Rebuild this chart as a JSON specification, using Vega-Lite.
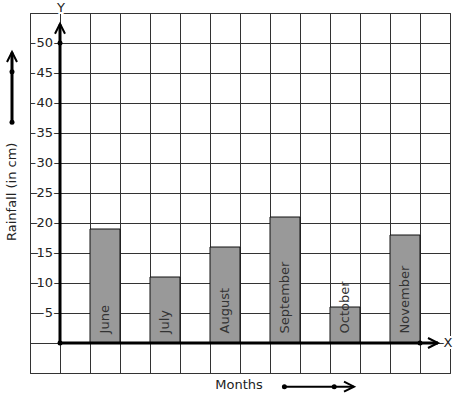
{
  "$schema": "https://vega.github.io/schema/vega-lite/v6.json",
  "width": 420,
  "height": 360,
  "autosize": {"type": "none"},
  "padding": {"left": 30, "top": 13, "right": 7, "bottom": 26},
  "background": "white",
  "config": {
    "view": {"stroke": "#333", "strokeWidth": 1},
    "font": "DejaVu Sans",
    "text": {"font": "DejaVu Sans", "fontSize": 13},
    "scale": {"continuousPadding": 0}
  },
  "datasets": {
    "rain": [
      {"month": "June", "pos": 1.5, "rainfall": 19},
      {"month": "July", "pos": 3.5, "rainfall": 11},
      {"month": "August", "pos": 5.5, "rainfall": 16},
      {"month": "September", "pos": 7.5, "rainfall": 21},
      {"month": "October", "pos": 9.5, "rainfall": 6},
      {"month": "November", "pos": 11.5, "rainfall": 18}
    ],
    "tickvals": [
      {"value": 5}, {"value": 10}, {"value": 15}, {"value": 20}, {"value": 25},
      {"value": 30}, {"value": 35}, {"value": 40}, {"value": 45}, {"value": 50}
    ],
    "one": [{}]
  },
  "layer": [
    {
      "data": {"name": "rain"},
      "mark": {"type": "bar", "width": 30, "fill": "#999999", "stroke": "#111111", "strokeWidth": 1, "clip": false},
      "encoding": {
        "x": {
          "field": "pos", "type": "quantitative",
          "scale": {"domain": [-1, 13], "nice": false, "zero": false, "padding": 0},
          "axis": {"values": [-1, 0, 1, 2, 3, 4, 5, 6, 7, 8, 9, 10, 11, 12, 13], "tickCount": 30, "labelOverlap": false, "labelFlush": false, "grid": true, "gridColor": "#333", "gridOpacity": 1, "gridWidth": 1, "labels": false, "ticks": false, "domain": false, "title": null}
        },
        "y": {
          "field": "rainfall", "type": "quantitative",
          "scale": {"domain": [-5, 55], "nice": false, "zero": false, "padding": 0},
          "axis": {"values": [-5, 0, 5, 10, 15, 20, 25, 30, 35, 40, 45, 50, 55], "tickCount": 30, "labelOverlap": false, "labelFlush": false, "grid": true, "gridColor": "#333", "gridOpacity": 1, "gridWidth": 1, "labels": false, "ticks": false, "domain": false, "title": null}
        },
        "y2": {"datum": 0}
      }
    },
    {
      "data": {"name": "rain"},
      "mark": {"type": "text", "angle": 270, "align": "left", "baseline": "middle", "fontSize": 13, "fill": "#333"},
      "encoding": {
        "x": {"field": "pos", "type": "quantitative"},
        "y": {"datum": 1.6},
        "text": {"field": "month"}
      }
    },
    {
      "data": {"name": "tickvals"},
      "mark": {"type": "text", "align": "right", "baseline": "middle", "fontSize": 13, "fill": "white", "stroke": "white", "strokeWidth": 4},
      "encoding": {
        "x": {"datum": -0.233},
        "y": {"field": "value", "type": "quantitative"},
        "text": {"field": "value"}
      }
    },
    {
      "data": {"name": "tickvals"},
      "mark": {"type": "text", "align": "right", "baseline": "middle", "fontSize": 13, "fill": "#222"},
      "encoding": {
        "x": {"datum": -0.233},
        "y": {"field": "value", "type": "quantitative"},
        "text": {"field": "value"}
      }
    },
    {
      "data": {"name": "one"},
      "mark": {"type": "rule", "strokeWidth": 3, "color": "black"},
      "encoding": {"x": {"datum": 0}, "y": {"datum": 0}, "y2": {"datum": 53.1}}
    },
    {
      "data": {"name": "one"},
      "mark": {"type": "rule", "strokeWidth": 3, "color": "black"},
      "encoding": {"x": {"datum": 0}, "x2": {"datum": 12.6}, "y": {"datum": 0}}
    },
    {
      "data": {"name": "one"},
      "mark": {"type": "rule", "strokeWidth": 3, "color": "black", "clip": false},
      "encoding": {"x": {"datum": -1.6}, "y": {"datum": 36.8}, "y2": {"datum": 48.4}}
    },
    {
      "data": {"name": "one"},
      "mark": {"type": "rule", "strokeWidth": 2, "color": "black", "clip": false},
      "encoding": {"x": {"datum": 7.48}, "x2": {"datum": 9.8}, "y": {"datum": -7.28}}
    },
    {
      "data": {"name": "one"},
      "mark": {"type": "point", "shape": "M-1,2L0,0L1,2", "size": 100, "filled": false, "stroke": "black", "strokeWidth": 2, "opacity": 1},
      "encoding": {"x": {"datum": 0}, "y": {"datum": 53.2}}
    },
    {
      "data": {"name": "one"},
      "mark": {"type": "point", "shape": "M-1,2L0,0L1,2", "size": 100, "filled": false, "stroke": "black", "strokeWidth": 2, "opacity": 1},
      "encoding": {"x": {"datum": -1.6}, "y": {"datum": 48.5}}
    },
    {
      "data": {"name": "one"},
      "mark": {"type": "point", "shape": "M-2,-1L0,0L-2,1", "size": 100, "filled": false, "stroke": "black", "strokeWidth": 2, "opacity": 1},
      "encoding": {"x": {"datum": 12.6}, "y": {"datum": 0}}
    },
    {
      "data": {"name": "one"},
      "mark": {"type": "point", "shape": "M-2,-1L0,0L-2,1", "size": 100, "filled": false, "stroke": "black", "strokeWidth": 2, "opacity": 1},
      "encoding": {"x": {"datum": 9.8}, "y": {"datum": -7.28}}
    },
    {
      "data": {"name": "one"},
      "layer": [
        {"mark": {"type": "circle", "size": 25, "color": "black", "opacity": 1}, "encoding": {"x": {"datum": 0}, "y": {"datum": 50}}},
        {"mark": {"type": "circle", "size": 25, "color": "black", "opacity": 1}, "encoding": {"x": {"datum": 0}, "y": {"datum": 0}}},
        {"mark": {"type": "circle", "size": 25, "color": "black", "opacity": 1}, "encoding": {"x": {"datum": 12}, "y": {"datum": 0}}},
        {"mark": {"type": "circle", "size": 25, "color": "black", "opacity": 1}, "encoding": {"x": {"datum": -1.6}, "y": {"datum": 36.8}}},
        {"mark": {"type": "circle", "size": 25, "color": "black", "opacity": 1}, "encoding": {"x": {"datum": -1.6}, "y": {"datum": 45.2}}},
        {"mark": {"type": "circle", "size": 25, "color": "black", "opacity": 1}, "encoding": {"x": {"datum": 7.48}, "y": {"datum": -7.28}}},
        {"mark": {"type": "circle", "size": 25, "color": "black", "opacity": 1}, "encoding": {"x": {"datum": 9.14}, "y": {"datum": -7.28}}},
        {"mark": {"type": "text", "align": "center", "baseline": "middle", "fontSize": 13, "fill": "white", "stroke": "white", "strokeWidth": 4}, "encoding": {"x": {"datum": 0.03}, "y": {"datum": 55.8}, "text": {"value": "Y"}}},
        {"mark": {"type": "text", "align": "center", "baseline": "middle", "fontSize": 13, "fill": "#222"}, "encoding": {"x": {"datum": 0.03}, "y": {"datum": 55.8}, "text": {"value": "Y"}}},
        {"mark": {"type": "text", "align": "center", "baseline": "middle", "fontSize": 13, "fill": "white", "stroke": "white", "strokeWidth": 4}, "encoding": {"x": {"datum": 12.93}, "y": {"datum": 0}, "text": {"value": "X"}}},
        {"mark": {"type": "text", "align": "center", "baseline": "middle", "fontSize": 13, "fill": "#222"}, "encoding": {"x": {"datum": 12.93}, "y": {"datum": 0}, "text": {"value": "X"}}},
        {"mark": {"type": "text", "align": "center", "baseline": "middle", "fontSize": 13, "fill": "#222", "angle": 270}, "encoding": {"x": {"datum": -1.6}, "y": {"datum": 25.2}, "text": {"value": "Rainfall (in cm)"}}},
        {"mark": {"type": "text", "align": "center", "baseline": "middle", "fontSize": 13, "fill": "#222"}, "encoding": {"x": {"datum": 5.97}, "y": {"datum": -7}, "text": {"value": "Months"}}}
      ]
    }
  ]
}
